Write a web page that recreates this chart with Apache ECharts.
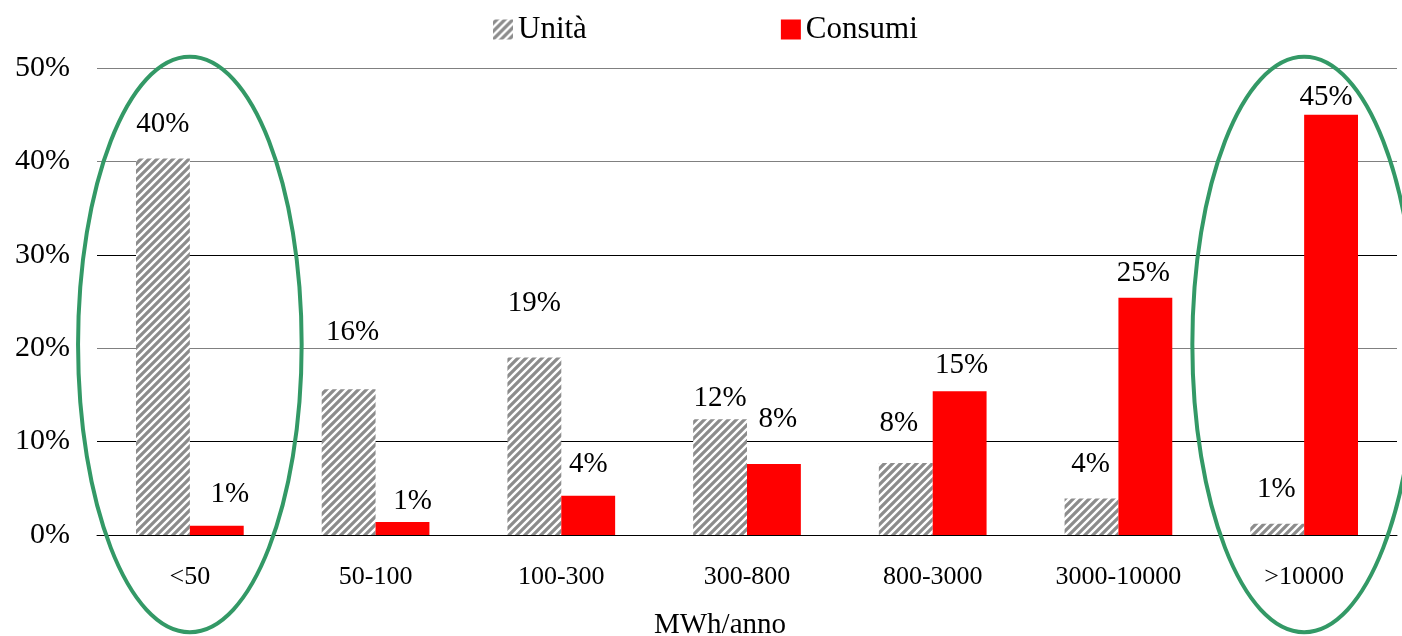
<!DOCTYPE html>
<html>
<head>
<meta charset="utf-8">
<script src="https://cdn.jsdelivr.net/npm/echarts@6/dist/echarts.min.js"></script>
<style>
html,body{margin:0;padding:0;background:#fff;}
#chart{width:1402px;height:636px;}
</style>
</head>
<body>
<div id="chart"></div>
<script>
// ---- data ----
var categories = ['<50', '50-100', '100-300', '300-800', '800-3000', '3000-10000', '>10000'];
var unita = [40.3, 15.6, 19.0, 12.4, 7.7, 3.9, 1.2];
var consumi = [1.0, 1.4, 4.2, 7.6, 15.4, 25.4, 45.0];
var yTicks = [0, 10, 20, 30, 40, 50];
var highlighted = ['<50', '>10000'];

// ---- label placement (styling, mimics manual label positions) ----
var unitaLabelDist = [20, 43, 40, 7, 26, 20, 20];
var unitaLabelDx   = [0, 4, 0, 0, -7, -1, -1];
var consumiLabelDist = [17, 7, 17, 31, 12, 10, 3];
var consumiLabelDx   = [13, 10, 0, 4, 2, -2, -5];

var FONT = '"Liberation Serif", "Times New Roman", serif';

function hatchPattern() {
  var c = document.createElement('canvas');
  c.width = 8; c.height = 8;
  var ctx = c.getContext('2d');
  ctx.fillStyle = '#8c8c8c';
  ctx.fillRect(0, 0, 8, 8);
  ctx.strokeStyle = '#ffffff';
  ctx.lineWidth = 2.4;
  ctx.beginPath();
  ctx.moveTo(-2, 10); ctx.lineTo(10, -2);
  ctx.moveTo(-6, 6); ctx.lineTo(6, -6);
  ctx.moveTo(2, 14); ctx.lineTo(14, 2);
  ctx.stroke();
  return { image: c, repeat: 'repeat' };
}

function buildData(vals, dist, dx) {
  return vals.map(function (v, i) {
    return { value: v, label: { distance: dist[i], offset: [dx[i], 0] } };
  });
}

var labelStyle = {
  show: true,
  position: 'top',
  color: '#000',
  fontFamily: FONT,
  fontSize: 29,
  lineHeight: 28,
  formatter: function (p) { return Math.round(p.value) + '%'; }
};

var chart = echarts.init(document.getElementById('chart'), null, { renderer: 'canvas' });
var pattern = hatchPattern();

var option = {
  animation: false,
  backgroundColor: '#ffffff',
  legend: {
    top: 9,
    left: 488,
    itemWidth: 20,
    itemHeight: 20,
    itemGap: 194,
    icon: 'rect',
    textStyle: { fontFamily: FONT, fontSize: 31, color: '#000', lineHeight: 30 },
    data: ['Unità', 'Consumi']
  },
  grid: { left: 97, right: 5, top: 68, bottom: 101, containLabel: false, outerBoundsMode: 'none' },
  xAxis: {
    type: 'category',
    data: categories,
    name: 'MWh/anno',
    nameLocation: 'middle',
    nameGap: 76,
    nameTextStyle: { fontFamily: FONT, fontSize: 29, color: '#000', padding: [0, 54, 0, 0] },
    axisLine: { lineStyle: { color: '#000', width: 1 } },
    axisTick: { show: false },
    axisLabel: { fontFamily: FONT, fontSize: 26, color: '#000', margin: 29 }
  },
  yAxis: {
    type: 'value',
    min: yTicks[0],
    max: yTicks[yTicks.length - 1],
    interval: yTicks[1] - yTicks[0],
    axisLine: { show: false },
    axisTick: { show: false },
    axisLabel: { fontFamily: FONT, fontSize: 30, color: '#000', margin: 27, formatter: '{value}%' },
    splitLine: { lineStyle: { color: ['#000', '#000', '#808080', '#000', '#808080', '#808080'], width: 1 } }
  },
  series: [
    {
      name: 'Unità',
      type: 'bar',
      barGap: '0%',
      barCategoryGap: '42%',
      itemStyle: { color: pattern },
      label: labelStyle,
      data: buildData(unita, unitaLabelDist, unitaLabelDx)
    },
    {
      name: 'Consumi',
      type: 'bar',
      barGap: '0%',
      barCategoryGap: '42%',
      itemStyle: { color: '#ff0000' },
      label: labelStyle,
      data: buildData(consumi, consumiLabelDist, consumiLabelDx)
    }
  ]
};

chart.setOption(option);

// green highlight ellipses around the first and last categories
function drawEllipses() {
  var p0 = chart.convertToPixel({ xAxisIndex: 0 }, categories[0]);
  var p1 = chart.convertToPixel({ xAxisIndex: 0 }, categories[1]);
  var band = Math.abs(p1 - p0);
  var yTop = chart.convertToPixel({ yAxisIndex: 0 }, 51.2);
  var yBot = chart.convertToPixel({ yAxisIndex: 0 }, -10.4);
  var graphics = highlighted.map(function (cat) {
    var cx = chart.convertToPixel({ xAxisIndex: 0 }, cat);
    return {
      type: 'ellipse',
      shape: { cx: cx, cy: (yTop + yBot) / 2, rx: band * 0.602, ry: (yBot - yTop) / 2 },
      style: { fill: 'none', stroke: '#339966', lineWidth: 4 },
      z: 100
    };
  });
  chart.setOption({ graphic: graphics });
}
drawEllipses();
</script>
</body>
</html>
